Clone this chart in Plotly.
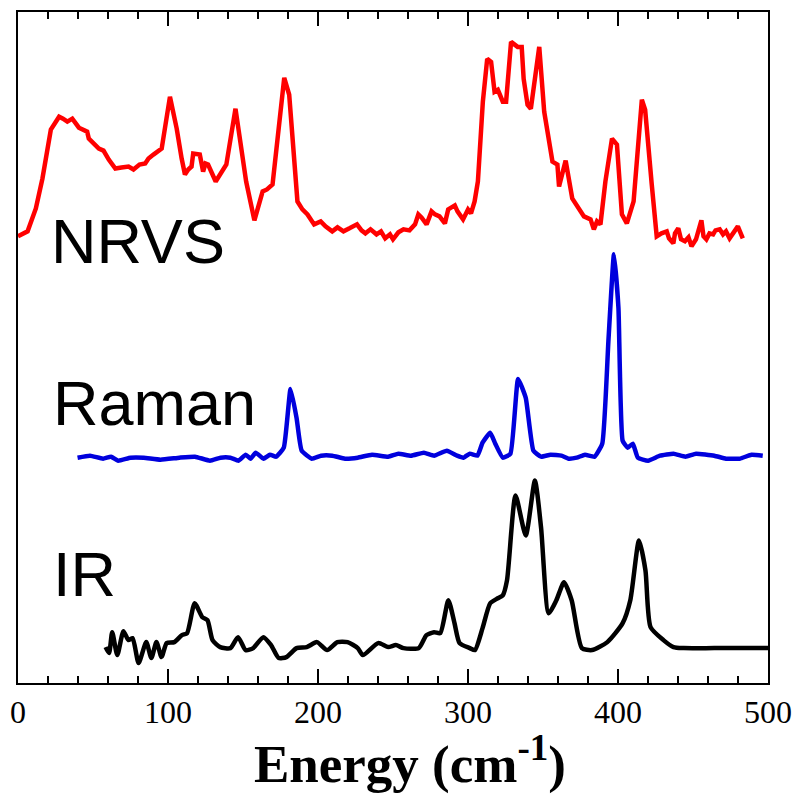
import plotly.graph_objects as go

# ---------------- data (arbitrary intensity units, traces already offset) ----------------
nrvs_e = [0, 6.4, 11.9, 16.3, 21.9, 27.4, 30, 32.9, 36.2, 40.6, 46.1, 47.2, 53.9, 57, 60.5, 64.9, 69, 73.7, 77.0, 81,
          84.8, 87, 90.3, 93, 95.8, 101.3, 105.8, 109.1, 111.3, 113.5, 115.7, 116.8, 121.2, 123.4, 125, 126.7, 129,
          131.8, 138.9, 145.0, 152.1, 157.6, 163.1, 166, 169.7, 173.0, 177.5, 180.8, 186.3, 189.6, 193, 197.4,
          201.8, 205, 209.5, 213, 217, 221, 226.0, 229, 231.6, 235, 239, 242, 244.8, 248, 250, 253.6, 257, 261,
          264.7, 266.9, 269, 272.4, 275.7, 278, 281, 284.6, 286.8, 291.2, 293, 296.7, 300.0, 302, 304.4, 306.6,
          309.9, 312.8, 315.4, 317.7, 319.9, 323.2, 325.4, 328.7, 331, 333.1, 335.8, 337.1, 339.7, 341.9, 347.5,
          350.8, 356.3, 359.6, 360.7, 365.1, 369.5, 374.0, 377.3, 381.7, 383.9, 386, 388.3, 391.6, 396.0, 399.3,
          402.6, 405.9, 410.4, 415.9, 418.1, 422.5, 425.8, 429, 432.5, 434, 436.9, 438, 440.2, 442, 444.6, 447,
          449.0, 452, 455.6, 457, 458.9, 461, 463.4, 465, 467.8, 470, 472, 474.4, 477, 479.9, 483.2]
nrvs_i = [44.8, 45.3, 47.6, 50.6, 55.5, 56.8, 56.6, 56.3, 56.6, 55.7, 55.3, 54.6, 53.6, 53.4, 52.5, 51.6, 51.7, 51.8,
          51.5, 52.0, 52.1, 52.6, 53.0, 53.3, 53.6, 58.8, 55.6, 52.6, 51.0, 51.5, 51.8, 53.1, 53.0, 51.3, 52.1, 52.0,
          51.1, 50.3, 52.0, 57.6, 50.3, 46.4, 49.3, 49.5, 50.0, 55.0, 60.7, 59.0, 48.3, 47.5, 47.0, 46.0, 46.3, 45.8,
          45.3, 45.7, 45.3, 45.6, 46.0, 45.4, 45.1, 45.5, 45.0, 45.3, 44.6, 45.0, 44.5, 45.2, 45.5, 45.4, 46.0, 47.0,
          46.7, 46.0, 47.3, 47.0, 46.8, 46.1, 47.5, 47.9, 47.3, 46.5, 47.5, 47.1, 48.3, 50.3, 58.3, 62.6, 62.3, 59.3,
          59.5, 58.3, 58.3, 64.3, 64.0, 63.8, 63.8, 60.6, 58.0, 57.6, 63.8, 57.3, 52.3, 52.0, 49.8, 52.4, 48.6, 47.6,
          46.8, 46.5, 45.5, 46.3, 46.0, 50.3, 54.6, 54.0, 47.0, 46.1, 48.3, 58.5, 57.5, 50.0, 44.8, 45.1, 45.3, 44.6,
          44.1, 45.1, 45.6, 44.5, 44.3, 44.7, 43.8, 44.5, 46.4, 44.8, 44.5, 45.1, 45.0, 45.4, 45.5, 45.0, 45.3, 44.6,
          45.1, 45.8, 44.6]

raman_e = [39.7, 48, 56.7, 62, 66.8, 75, 83.8, 95, 107.6, 118, 128.0, 135, 141.6, 147, 151.8, 155, 158.5, 163.6,
           168, 172.1, 177.2, 181.7, 185.7, 189.1, 195.9, 202, 209.5, 218, 226.5, 236, 246.8, 253.6, 262, 270.6,
           277.4, 285.9, 292.7, 297, 301.2, 306.3, 309.7, 314.8, 318.2, 323.2, 328.3, 333.4, 338.5, 343.6, 348.7,
           355, 362.3, 367, 372.5, 378, 384.4, 389.5, 393.6, 397.3, 400.3, 403.1, 406.5, 409.9, 413.2, 420.1, 428,
           437.0, 445, 452, 464.2, 472, 481.2, 489, 496.5]
raman_i = [22.6, 22.8, 22.5, 22.7, 22.3, 22.6, 22.6, 22.4, 22.6, 22.7, 22.3, 22.6, 22.6, 22.3, 22.9, 22.5, 23.1,
           22.5, 22.9, 22.7, 23.6, 29.5, 26.6, 23.3, 22.5, 22.8, 22.8, 22.5, 22.6, 22.9, 22.7, 23.0, 22.8, 23.1,
           22.8, 23.3, 22.8, 22.6, 23.0, 22.8, 24.1, 25.1, 24.0, 22.6, 23.0, 30.5, 28.6, 23.3, 22.7, 22.9, 22.8,
           22.5, 22.6, 22.9, 22.7, 24.0, 34.3, 43.0, 37.6, 24.3, 23.6, 24.0, 22.6, 22.3, 22.8, 23.0, 22.7, 23.0,
           22.8, 22.5, 22.5, 22.9, 22.8]

ir_e = [58.4, 60.7, 62.8, 66.2, 70.3, 73.6, 76.4, 80.4, 85.5, 88.9, 92.3, 95.7, 99.1, 104.2, 109.3, 112.7, 117.8,
        122.9, 126.3, 129.7, 134.8, 141.6, 146.7, 151.8, 156.8, 163.6, 168.7, 173.8, 178.9, 185.7, 192.5, 199.3,
        206.1, 212.9, 219.7, 226.5, 229.9, 240.1, 246.8, 251.9, 257.0, 267.2, 272.3, 277.4, 281.5, 286.9, 291.0,
        294.4, 301.2, 304.6, 309.7, 314.8, 319.9, 323.2, 326.0, 331.7, 338.5, 344.6, 348.7, 353.8, 358.9, 364.0,
        369.1, 375.9, 382.7, 392.9, 403.1, 408.2, 414.0, 418.3, 421.7, 430.3, 437.0, 443.8, 464.2, 501.6]
ir_i = [3.6, 3.0, 5.1, 2.8, 5.2, 4.3, 4.5, 2.0, 4.1, 2.5, 4.1, 2.6, 4.0, 4.1, 4.8, 5.0, 8.0, 6.6, 6.3, 4.3, 3.6,
        3.5, 4.6, 3.3, 3.5, 4.6, 3.8, 2.5, 2.6, 3.5, 3.6, 4.1, 3.3, 4.1, 4.1, 3.5, 2.8, 4.0, 3.6, 3.8, 3.5, 3.5,
        4.8, 5.1, 5.0, 8.3, 6.0, 4.0, 3.5, 3.3, 5.5, 8.0, 8.5, 8.8, 10.3, 18.8, 14.8, 20.3, 15.6, 7.0, 8.3, 10.1,
        8.3, 3.5, 3.3, 4.1, 6.0, 8.3, 14.3, 11.3, 5.6, 4.3, 3.6, 3.5, 3.5, 3.5]

labels = ["NRVS", "Raman", "IR"]
x_ticks = [0, 100, 200, 300, 400, 500]

# ---------------- figure ----------------
fig = go.Figure()
fig.add_trace(go.Scatter(x=nrvs_e, y=nrvs_i, mode="lines", line=dict(color="#FF0000", width=4.5)))
fig.add_trace(go.Scatter(x=raman_e, y=raman_i, mode="lines",
                         line=dict(color="#0000DD", width=4.5, shape="spline", smoothing=0.4)))
fig.add_trace(go.Scatter(x=ir_e, y=ir_i, mode="lines",
                         line=dict(color="#000000", width=4.5, shape="spline", smoothing=0.6)))

label_pos = [(0.041, 0.659), (0.044, 0.417), (0.044, 0.162)]
for txt, (px, py) in zip(labels, label_pos):
    fig.add_annotation(text=txt, xref="paper", yref="paper", x=px, y=py, xanchor="left", yanchor="middle",
                       showarrow=False, font=dict(family="Liberation Sans, Arial", size=63, color="black"))

fig.add_annotation(text="<b>Energy (cm<sup>-1</sup>)</b>", xref="paper", yref="paper", x=0.522, y=-0.116,
                   xanchor="center", yanchor="middle", showarrow=False,
                   font=dict(family="Liberation Serif, Times New Roman", size=53, color="black"))

fig.update_layout(
    width=802, height=803,
    margin=dict(l=17, r=30, t=10, b=120),
    paper_bgcolor="white", plot_bgcolor="white",
    showlegend=False,
    xaxis=dict(range=[0, 500], tickvals=x_ticks, ticktext=[str(v) for v in x_ticks],
               ticks="inside", ticklen=14, tickwidth=2, tickcolor="black",
               minor=dict(dtick=20, ticks="inside", ticklen=7, tickwidth=2, tickcolor="black"),
               showline=True, linewidth=2, linecolor="black", mirror="allticks",
               showgrid=False, zeroline=False,
               tickfont=dict(family="Liberation Serif, Times New Roman", size=32, color="black")),
    yaxis=dict(range=[0, 67.3], showticklabels=False, ticks="", showline=True, linewidth=2,
               linecolor="black", mirror=True, showgrid=False, zeroline=False),
)

fig.write_html("out.html")
